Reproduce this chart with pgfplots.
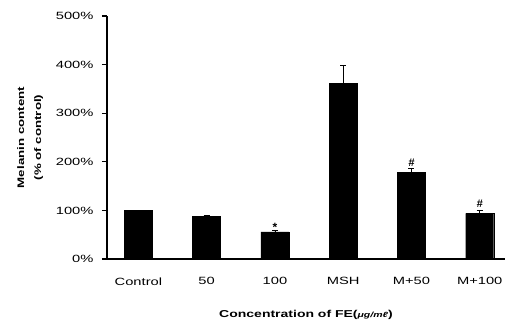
\documentclass[border=0pt]{standalone}
\usepackage{fontspec}
\setmainfont{Liberation Sans}
\newfontfamily\widefont[FakeStretch=1.4]{Liberation Sans}
\usepackage{pgfplots}
\pgfplotsset{compat=1.18}
\begin{document}
\begin{tikzpicture}
\begin{axis}[
  at={(0,0)}, anchor=south west,
  scale only axis, width=398pt, height=243pt,
  xmin=-0.46, xmax=5.37, ymin=0, ymax=500,
  axis lines*=left,
  axis line style={line width=1.8pt},
  ytick={0,100,200,300,400,500},
  yticklabel={\pgfmathprintnumber{\tick}\%},
  /pgf/number format/assume math mode=true,
  ytick style={line width=1.2pt, black},
  tick align=outside, major tick length=5pt,
  xtick={0,1,2,3,4,5},
  xticklabels={Control,50,100,MSH,M+50,M+100},
  xtick style={draw=none},
  tick label style={font=\widefont\fontsize{10.5}{12}\selectfont},
  yticklabel style={xshift=-5pt},
  xticklabel style={yshift=-10pt},
  ylabel={Melanin content\\(\% of control)},
  ylabel style={align=center, font=\widefont\bfseries\fontsize{9.5}{17}\selectfont, yshift=6pt},
  xlabel={Concentration of FE(\textit{\fontsize{7.5}{8}\selectfont μg/mℓ})},
  xlabel style={yshift=-18pt, font=\widefont\bfseries\fontsize{10}{11}\selectfont},
  clip=false,
]
\addplot[ybar, bar width=28pt, fill=black, draw=black,
  error bars/.cd, y dir=plus, y explicit,
  error bar style={line width=0.6pt, black}, error mark options={rotate=90, mark size=3pt, line width=0.6pt}]
  coordinates {
  (0,100) +- (0,0)
  (1,88) +- (0,1)
  (2,56) +- (0,4)
  (3,361) +- (0,37)
  (4,178) +- (0,8)
  (5,94) +- (0,6)
  };
\node[font=\bfseries\fontsize{12}{12}\selectfont] at (axis cs:2,66) {*};
\node[font=\bfseries\itshape\fontsize{11}{11}\selectfont] at (axis cs:4,199) {\#};
\node[font=\bfseries\itshape\fontsize{11}{11}\selectfont] at (axis cs:5,114) {\#};
\end{axis}
\pgfresetboundingbox
\path[use as bounding box] (-107pt,-63pt) rectangle (408pt,259pt);
\end{tikzpicture}
\end{document}
